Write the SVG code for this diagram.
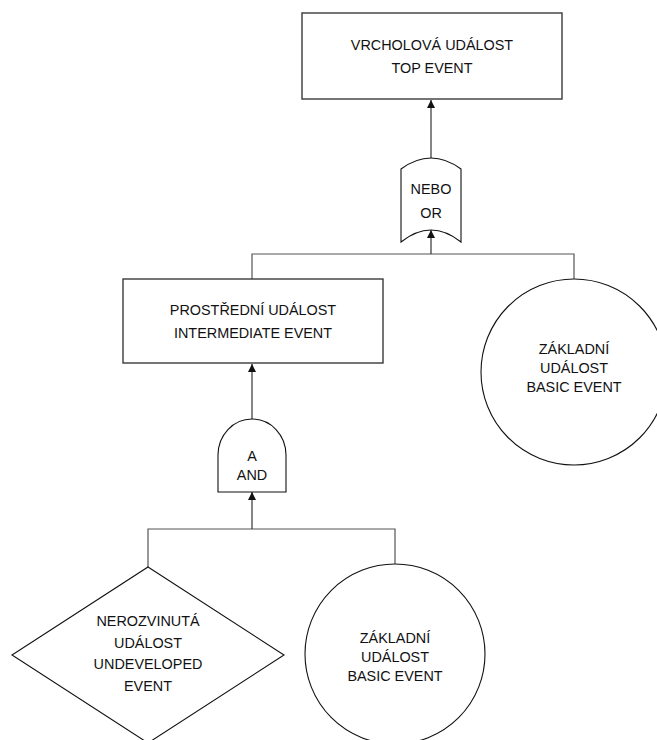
<svg xmlns="http://www.w3.org/2000/svg" width="657" height="740" viewBox="0 0 657 740">
  <style>
    text { font-family: "Liberation Sans", Arial, sans-serif; font-size: 14.4px; fill: #111; text-anchor: middle; }
    .box { fill: #fff; stroke: #3a3a3a; stroke-width: 1.4; }
    .shape { fill: #fff; stroke: #111; stroke-width: 1.1; }
    .wire { fill: none; stroke: #555; stroke-width: 1.2; }
    .arrow { fill: none; stroke: #333; stroke-width: 1.2; marker-end: url(#head); }
  </style>
  <defs>
    <marker id="head" viewBox="0 0 10 10" refX="10" refY="5" markerWidth="8" markerHeight="8" markerUnits="userSpaceOnUse" orient="auto">
      <path d="M0,0 L10,5 L0,10 Z" fill="#111"/>
    </marker>
  </defs>
  <rect width="657" height="740" fill="#fff"/>

  <g id="connectors">
    <!-- OR gate inputs -->
    <polyline class="wire" points="252,279 252,254 574,254 574,279"/>
    <line class="arrow" x1="431" y1="254" x2="431" y2="230"/>
    <!-- OR gate output to top event -->
    <line class="arrow" x1="431" y1="159" x2="431" y2="100"/>
    <!-- AND gate inputs -->
    <polyline class="wire" points="148,567 148,529 395,529 395,564"/>
    <line class="arrow" x1="252" y1="529" x2="252" y2="492"/>
    <!-- AND gate output to intermediate event -->
    <line class="arrow" x1="252" y1="420" x2="252" y2="364"/>
  </g>

  <g id="top-event">
    <rect class="box" x="302" y="13" width="260" height="86"/>
    <text x="432" y="50">VRCHOLOVÁ UDÁLOST</text>
    <text x="432" y="73">TOP EVENT</text>
  </g>

  <g id="or-gate">
    <path class="shape" d="M401,242 L401,169 Q431,147 461,169 L461,242 Q431,218 401,242 Z"/>
    <text x="431" y="194">NEBO</text>
    <text x="431" y="218">OR</text>
  </g>

  <g id="intermediate-event">
    <rect class="box" x="123" y="279" width="260" height="84"/>
    <text x="253" y="315">PROSTŘEDNÍ UDÁLOST</text>
    <text x="253" y="338">INTERMEDIATE EVENT</text>
  </g>

  <g id="basic-event-1">
    <circle class="shape" cx="574" cy="372" r="93"/>
    <text x="574" y="354">ZÁKLADNÍ</text>
    <text x="574" y="373">UDÁLOST</text>
    <text x="574" y="392">BASIC EVENT</text>
  </g>

  <g id="and-gate">
    <path class="shape" d="M218,492 L218,455 A34,36 0 0 1 286,455 L286,492 Z"/>
    <text x="252" y="461">A</text>
    <text x="252" y="480">AND</text>
  </g>

  <g id="undeveloped-event">
    <polygon class="shape" points="148,567 284,655 148,743 12,655"/>
    <text x="148" y="626">NEROZVINUTÁ</text>
    <text x="148" y="648">UDÁLOST</text>
    <text x="148" y="669">UNDEVELOPED</text>
    <text x="148" y="691">EVENT</text>
  </g>

  <g id="basic-event-2">
    <circle class="shape" cx="395" cy="654" r="90"/>
    <text x="395" y="643">ZÁKLADNÍ</text>
    <text x="395" y="662">UDÁLOST</text>
    <text x="395" y="681">BASIC EVENT</text>
  </g>
</svg>
